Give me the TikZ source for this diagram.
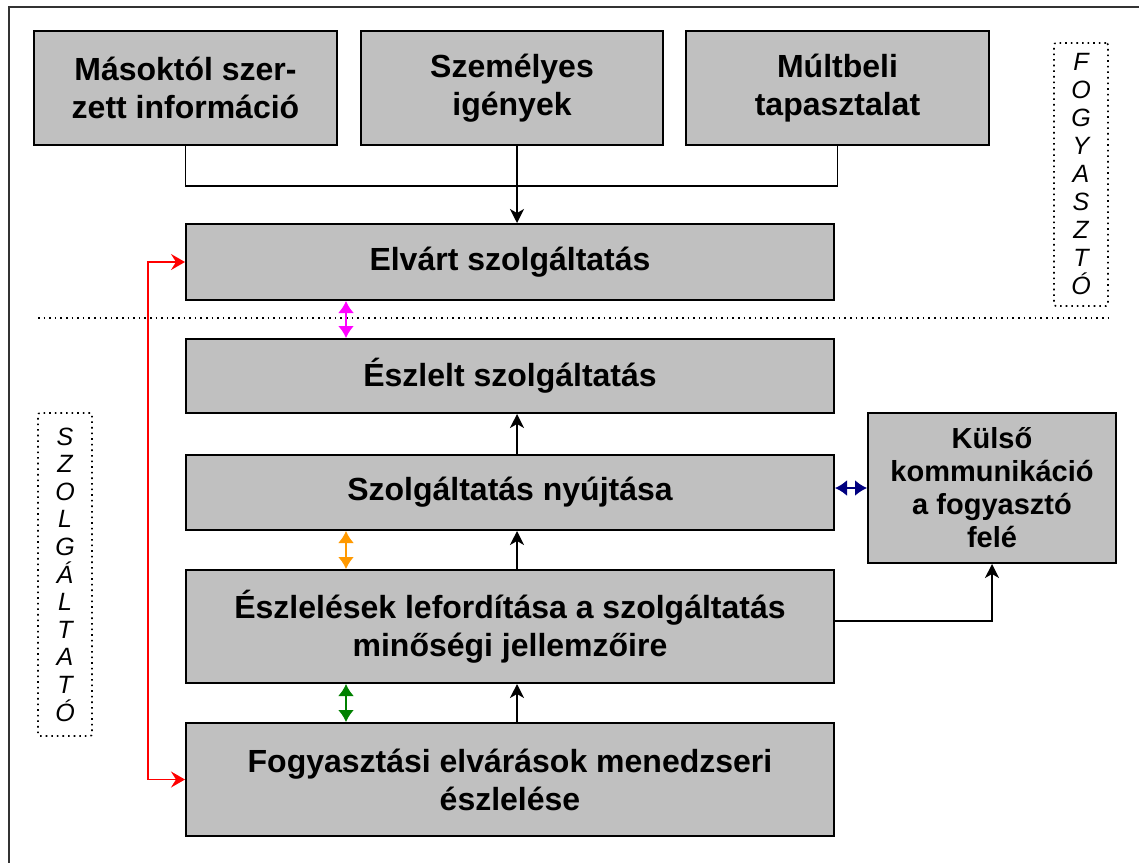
\documentclass[tikz,border=0pt]{standalone}
\usepackage{fontspec}
\setmainfont{Liberation Sans}
\usetikzlibrary{arrows.meta}
\definecolor{boxgray}{RGB}{192,192,192}
\definecolor{ornge}{RGB}{255,153,0}
\definecolor{grn}{RGB}{0,128,0}
\definecolor{nvy}{RGB}{0,0,128}
\definecolor{mgnt}{RGB}{255,0,255}
\definecolor{rd}{RGB}{255,0,0}
\begin{document}
\begin{tikzpicture}[x=0.5pt,y=-0.5pt,
  box/.style={draw=black, line width=1pt, fill=boxgray, align=center, inner sep=0pt,
    font=\bfseries\fontsize{16}{19}\selectfont},
  wide/.style={box, minimum width=324pt},
  small/.style={box, font=\bfseries\fontsize{14.5}{16.5}\selectfont},
  sidebox/.style={draw=black, dotted, line width=0.8pt, rounded corners=1pt, align=center, inner sep=0pt,
    minimum width=27pt},
  conn/.style={draw=black, line width=0.75pt},
  arr/.style={conn, -{Stealth[length=7pt, width=7pt, inset=2pt]}},
  dbl/.style={line width=1pt, {Latex[length=6pt, width=8pt]}-{Latex[length=6pt, width=8pt]}},
  redarr/.style={draw=rd, line width=0.85pt, {Stealth[length=7pt, width=8pt, inset=2.5pt]}-{Stealth[length=7pt, width=8pt, inset=2.5pt]}}
]
\useasboundingbox (0,0) rectangle (1139,863);
% outer frame
\draw[line width=0.8pt, draw=black!80] (1139,7) -- (9,7) -- (9,863);

% top boxes
\node[box, minimum width=151.5pt, minimum height=57pt] (b1) at (185.5,88) {Másoktól szer-\\zett információ};
\node[box, minimum width=151pt, minimum height=57pt] (b2) at (512,88) {Személyes\\igények};
\node[box, minimum width=151.5pt, minimum height=57pt] (b3) at (837.5,88) {Múltbeli\\tapasztalat};

% main column
\node[wide, minimum height=38pt] (el) at (510,262) {Elvárt szolgáltatás};
\node[wide, minimum height=37pt] (esz) at (510,376) {Észlelt szolgáltatás};
\node[wide, minimum height=37.5pt] (ny) at (510,492.5) {Szolgáltatás nyújtása};
\node[wide, minimum height=56.5pt] (esl) at (510,626.5) {Észlelések lefordítása a szolgáltatás\\minőségi jellemzőire};
\node[wide, minimum height=56.5pt] (fe) at (510,779.5) {Fogyasztási elvárások menedzseri\\észlelése};
\node[small, minimum width=124pt, minimum height=75pt] (ku) at (992,488) {Külső\\kommunikáció\\a fogyasztó\\felé};

% side labels
\node[sidebox, minimum height=131.5pt, font=\itshape\fontsize{12.5}{14}\selectfont] (fog) at (1081,174.5)
  {F\\O\\G\\Y\\A\\S\\Z\\T\\Ó};
\node[sidebox, minimum height=161.5pt, font=\itshape\fontsize{12.5}{13.8}\selectfont] (szo) at (65,574.5)
  {S\\Z\\O\\L\\G\\Á\\L\\T\\A\\T\\Ó};

% separator
\draw[dotted, line width=0.8pt] (38,318) -- (1112,318);

% top connectors
\draw[conn] (b1.south) -- ++(0,40) -| (b3.south);
\coordinate (ax) at (517,0);
\coordinate (cx) at (346,0);
\draw[arr] (b2.south -| ax) -- (el.north -| ax);

% vertical black arrows
\draw[arr] (ny.north -| ax) -- (esz.south -| ax);
\draw[arr] (esl.north -| ax) -- (ny.south -| ax);
\draw[arr] (fe.north -| ax) -- (esl.south -| ax);

% coloured double arrows
\draw[dbl, mgnt] (el.south -| cx) -- (esz.north -| cx);
\draw[dbl, ornge] (ny.south -| cx) -- (esl.north -| cx);
\draw[dbl, grn] (esl.south -| cx) -- (fe.north -| cx);
\draw[dbl, nvy] (ku.west -| ny.east) -- (ku.west);

% red link
\coordinate (rx) at (148,500);
\draw[redarr] (el.west) -| (rx) |- (fe.west);

% to external communication
\draw[arr] ([yshift=2.75pt]esl.east) -| (ku.south);
\end{tikzpicture}
\end{document}
